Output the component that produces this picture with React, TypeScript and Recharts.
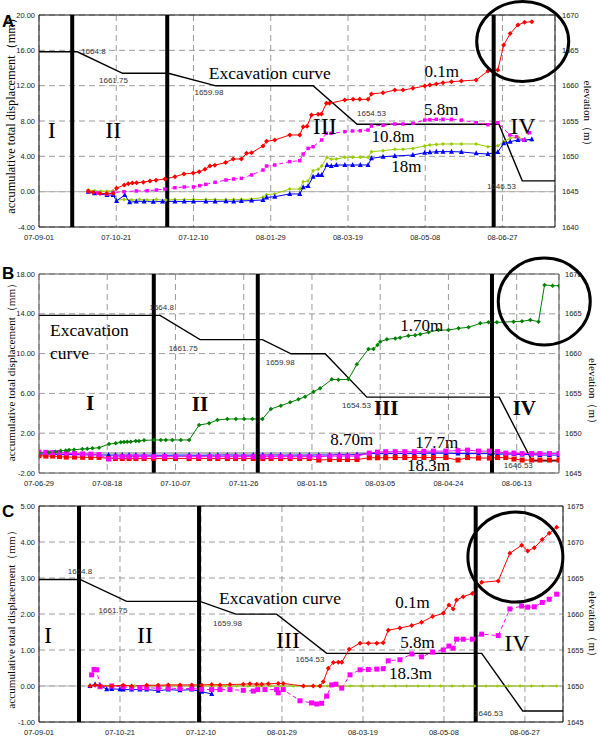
import React from 'react';
import { ComposedChart, Line, XAxis, YAxis, CartesianGrid, ReferenceLine, ReferenceDot } from 'recharts';

const SANS = '"Liberation Sans", Arial, sans-serif';
const SERIF = '"Liberation Serif", "Times New Roman", serif';

type P = { day: number; v: number };
const zip = (d: number[], v: number[]): P[] => d.map((x, i) => ({ day: x, v: v[i] }));

// ---------------- Panel A (days since 07-09-01) ----------------
const aTickDays = [0, 50, 100, 150, 200, 250, 300];
const aTickLabels = ['07-09-01', '07-10-21', '07-12-10', '08-01-29', '08-03-19', '08-05-08', '08-06-27'];
const aExcDays = [0, 24.8, 54.1, 83.7, 114.5, 177.4, 205.9, 297.7, 312.8, 334];
const aExcElev = [1664.8, 1664.8, 1661.75, 1661.75, 1659.98, 1659.98, 1654.53, 1654.53, 1646.53, 1646.53];
const aPhaseDays = [21.5, 83, 294.3];
const aRedDays = [31.9, 35, 39.5, 43.8, 48, 50.2, 55.2, 57.8, 60.4, 63.2, 67.5, 71.8, 75.7, 81.5, 88, 93.8, 99.8, 103.7, 107.4, 110.6, 113.8, 120.8, 125.7, 131, 134.3, 137.6, 145, 147.3, 152.6, 162.3, 168.8, 171, 173.5, 176.4, 180.7, 182.8, 186, 188, 197.9, 203.3, 207.6, 213, 215.2, 222.7, 230.3, 235.6, 242, 249.7, 253, 257.2, 261.5, 267, 273.4, 283, 290.6, 297, 300.8, 305, 310, 314.3, 319];
const aRedVals = [0.05, -0.1, -0.2, -0.22, -0.2, 0.4, 0.75, 0.9, 0.97, 1.0, 1.08, 1.22, 1.3, 1.43, 1.7, 2.0, 2.1, 2.26, 2.53, 2.9, 3.0, 3.3, 3.7, 3.7, 4.34, 4.4, 5.17, 5.7, 5.85, 6.42, 6.42, 7.36, 7.4, 8.68, 8.76, 8.8, 10.0, 10.0, 10.38, 10.45, 10.45, 10.45, 11.06, 11.2, 11.5, 11.5, 11.7, 11.96, 12.08, 12.2, 12.34, 12.45, 12.53, 12.64, 13.66, 13.77, 16.6, 17.9, 18.87, 19.17, 19.24];
const aMagDays = [31.9, 38, 44, 48, 55, 63, 70, 76, 81.5, 88, 94, 100, 104, 108, 114, 121, 126, 131, 137.6, 145, 147.3, 152.6, 162.3, 168.8, 171, 174.2, 177.4, 183, 186, 189, 198, 203, 208, 213, 215.2, 222.7, 230.3, 235.6, 242, 249.7, 253, 257.2, 261.5, 267, 273.4, 283, 290.6, 297, 304.8, 309, 313.7, 317.6];
const aMagVals = [0.05, -0.15, -0.3, -0.1, 0.0, 0.08, 0.11, 0.19, 0.3, 0.45, 0.53, 0.53, 0.68, 0.83, 1.06, 1.32, 1.43, 1.51, 1.89, 2.45, 2.9, 3.02, 3.4, 3.51, 4.26, 4.9, 5.09, 5.85, 6.6, 6.6, 6.79, 6.87, 6.9, 6.98, 7.43, 7.51, 7.66, 7.66, 7.74, 8.1, 8.15, 8.19, 8.19, 8.19, 8.1, 7.81, 7.58, 7.81, 6.42, 6.22, 5.85, 6.68];
const aGrnDays = [31.9, 36, 40, 44, 48, 50.2, 55, 60, 65, 70, 76, 82, 88, 94, 100, 108, 114, 121, 126, 131, 137.6, 145, 147.3, 152.6, 162.3, 168.8, 171, 174.2, 177.4, 180.7, 183, 186.4, 189.2, 192.5, 198, 203, 208, 213, 215.2, 222.7, 230.3, 235.6, 242, 249.7, 253, 257.2, 261.5, 267, 273.4, 283, 290.6, 297, 300.8, 305, 310, 314.3, 319];
const aGrnVals = [0.19, 0.1, 0.05, 0.05, 0.1, -0.94, -0.9, -0.95, -0.9, -0.95, -0.9, -0.95, -0.9, -0.92, -0.88, -0.9, -0.9, -0.92, -0.9, -0.88, -0.85, -0.64, -0.35, -0.25, 0.3, 0.3, 1.13, 1.2, 2.38, 2.53, 2.9, 3.89, 3.66, 3.7, 3.89, 3.89, 3.89, 3.89, 4.53, 4.64, 4.8, 4.8, 4.9, 5.17, 5.28, 5.35, 5.4, 5.4, 5.4, 5.4, 5.09, 5.2, 5.66, 6.04, 6.22, 5.85, 5.85];
const aBluDays = [31.9, 36, 44, 48, 50.2, 55.5, 58.7, 63, 68, 74, 80, 88, 94, 100, 108, 114, 121, 126, 131, 137.6, 145, 147.3, 152.6, 162.3, 168.8, 171, 174.2, 177.4, 180.7, 183, 186.4, 189.2, 192.5, 198, 203, 208, 213, 215.2, 222.7, 230.3, 242, 249.7, 253, 257.2, 261.5, 267, 273.4, 283, 290.6, 297, 300.8, 305, 310, 314.3, 319];
const aBluVals = [0.0, -0.19, -0.38, -0.38, -1.05, -0.38, -1.2, -1.1, -1.1, -1.15, -1.1, -1.1, -1.12, -1.1, -1.1, -1.1, -1.08, -1.1, -1.05, -1.0, -0.94, -0.65, -0.57, -0.26, -0.26, 0.49, 0.64, 1.7, 1.89, 1.9, 3.02, 2.9, 3.02, 3.02, 3.02, 3.02, 3.02, 3.77, 3.96, 4.04, 4.15, 4.41, 4.45, 4.53, 4.53, 4.53, 4.5, 4.34, 4.26, 4.49, 5.47, 5.66, 5.85, 5.85, 5.92];

// ---------------- Panel B (days since 07-06-29) ----------------
const bTickDays = [0, 50, 100, 150, 200, 250, 300, 350];
const bTickLabels = ['07-06-29', '07-08-18', '07-10-07', '07-11-26', '08-01-15', '08-03-05', '08-04-24', '08-06-13'];
const bExcDays = [0, 88.7, 118, 163.7, 184.7, 209.7, 240.2, 337.2, 361.2, 381];
const bExcElev = [1664.8, 1664.8, 1661.75, 1661.75, 1659.98, 1659.98, 1654.53, 1654.53, 1646.53, 1646.53];
const bPhaseDays = [84.1, 160.3, 331.9];
const bGrnDays = [0, 7.3, 12.2, 15.9, 19.6, 22, 25.7, 31.8, 35.4, 39.1, 44, 51.3, 56.2, 59.9, 62.3, 64.7, 67.2, 70.9, 73.3, 77, 84.3, 89.2, 92.9, 97.7, 103.9, 110, 117.3, 124.6, 130.7, 138, 144.2, 150.3, 156.4, 163.7, 169.9, 177.2, 184, 190.1, 195, 201.1, 206, 214.6, 219.4, 226.7, 232.9, 241.4, 245.1, 248, 250, 254.9, 261, 264.6, 270.7, 275.6, 279.3, 285.4, 292.7, 300, 307.4, 314.7, 323.3, 329.4, 335.5, 347.7, 353.9, 360, 366, 370.4, 376.3, 381];
const bGrnVals = [0, 0.08, 0.14, 0.24, 0.27, 0.31, 0.34, 0.41, 0.44, 0.48, 0.54, 0.91, 0.98, 1.08, 1.12, 1.15, 1.15, 1.22, 1.22, 1.28, 1.32, 1.32, 1.32, 1.32, 1.32, 1.32, 2.82, 2.99, 3.33, 3.43, 3.43, 3.43, 3.43, 3.43, 4.43, 4.77, 5.1, 5.4, 5.67, 6.17, 6.51, 7.41, 7.38, 7.41, 8.92, 10.46, 10.46, 10.86, 11.2, 11.43, 11.53, 11.6, 11.8, 11.85, 11.94, 12.14, 12.37, 12.37, 12.54, 12.64, 13.04, 13.14, 13.14, 13.21, 13.25, 13.38, 13.21, 16.9, 16.83, 16.83];
const bSmDays = [0, 5, 10, 15, 20, 26, 32, 38, 44, 51, 56, 61, 66, 71, 77, 84, 92, 100, 110, 117, 125, 131, 138, 144, 150, 157, 164, 170, 177, 184, 191, 198, 205, 213, 220, 226, 233, 242, 248, 254, 261, 268, 275, 282, 289, 298, 307, 314, 322, 330, 336, 342, 348, 354, 361, 367, 374, 381];
const bBluVals = [-0.1, -0.1, -0.12, -0.15, -0.15, -0.15, -0.18, -0.18, -0.18, -0.2, -0.2, -0.2, -0.2, -0.2, -0.2, -0.2, -0.22, -0.2, -0.2, -0.22, -0.2, -0.2, -0.18, -0.2, -0.2, -0.2, -0.2, -0.18, -0.2, -0.2, -0.2, -0.2, -0.18, -0.2, -0.15, -0.18, -0.15, -0.05, -0.05, -0.05, -0.05, -0.05, -0.05, 0.0, 0.0, 0.0, -0.05, -0.05, -0.05, -0.05, -0.1, -0.1, -0.1, -0.15, -0.15, -0.2, -0.2, -0.2];
const bMagVals = [0.1, 0.08, 0.05, 0.05, 0.0, -0.05, -0.08, -0.1, -0.15, -0.6, -0.38, -0.36, -0.36, -0.36, -0.36, -0.36, -0.36, -0.36, -0.36, -0.36, -0.36, -0.36, -0.36, -0.36, -0.36, -0.36, -0.36, -0.36, -0.36, -0.36, -0.36, -0.36, -0.36, -0.3, -0.3, -0.3, -0.3, 0.0, 0.1, 0.14, 0.14, 0.14, 0.14, 0.18, 0.2, 0.2, 0.25, 0.3, 0.2, 0.2, 0.15, 0.0, 0.0, -0.05, -0.05, -0.05, -0.05, -0.05];
const bRedVals = [-0.26, -0.3, -0.3, -0.35, -0.4, -0.4, -0.42, -0.43, -0.43, -0.53, -0.55, -0.55, -0.55, -0.55, -0.55, -0.55, -0.55, -0.55, -0.55, -0.55, -0.55, -0.55, -0.55, -0.55, -0.55, -0.55, -0.55, -0.55, -0.55, -0.55, -0.55, -0.55, -0.7, -0.65, -0.65, -0.65, -0.65, -0.47, -0.47, -0.47, -0.45, -0.45, -0.45, -0.45, -0.45, -0.45, -0.7, -0.45, -0.5, -0.5, -0.45, -0.45, -0.6, -0.7, -0.7, -0.7, -0.7, -0.7];

// ---------------- Panel C (days since 07-09-01) ----------------
const cTickDays = [0, 50, 100, 150, 200, 250, 300];
const cTickLabels = ['07-09-01', '07-10-21', '07-12-10', '08-01-29', '08-03-19', '08-05-08', '08-06-27'];
const cExcDays = [0, 25.3, 54.1, 99.4, 121.6, 146.7, 177.6, 273.3, 298.6, 323.5];
const cExcElev = [1664.8, 1664.8, 1661.75, 1661.75, 1659.98, 1659.98, 1654.53, 1654.53, 1646.53, 1646.53];
const cPhaseDays = [24.7, 98.8, 269.6];
const cRedDays = [31.5, 34.6, 37.7, 44.9, 52, 57.2, 66.5, 73.6, 79.8, 87, 94.3, 100.4, 106.6, 111.7, 117.9, 126.1, 130.2, 134.4, 137.5, 141.6, 147.7, 150.8, 163.2, 169.3, 173.5, 175.5, 178.6, 181.7, 184.8, 186.9, 191.5, 198.2, 203.3, 208.5, 212.5, 215.6, 222.8, 230.1, 236.2, 243, 249.6, 253.1, 255.7, 257.8, 261.9, 267.5, 273.3, 283.5, 290.7, 298, 301.7, 305.8, 310.7, 315, 319.6];
const cRedVals = [0.0, 0.02, 0.0, 0.0, 0.02, 0.0, 0.02, 0.02, 0.03, 0.03, 0.03, 0.03, 0.04, 0.03, 0.04, 0.05, 0.06, 0.05, 0.05, 0.06, 0.07, 0.07, 0.0, 0.0, 0.0, 0.12, 0.49, 0.65, 0.66, 0.66, 1.02, 1.19, 1.19, 1.19, 1.2, 1.55, 1.61, 1.68, 1.77, 1.93, 2.02, 2.25, 2.14, 2.39, 2.48, 2.57, 2.88, 2.92, 3.69, 3.91, 3.75, 3.84, 4.07, 4.24, 4.41];
const cMagDays = [32.5, 34, 35.6, 37.7, 44.9, 52, 57.2, 62.3, 66.5, 73.6, 79.8, 87, 94.3, 100.4, 106.6, 111.7, 117.9, 126.1, 132.3, 135, 139.5, 146.7, 147.7, 150.8, 161.1, 168.3, 171.4, 174.5, 177.6, 180.7, 183.3, 186.9, 192, 198.2, 203.3, 208.5, 212.5, 215.6, 222.8, 230.1, 236.2, 243, 249.6, 253.1, 255.7, 257.8, 261.9, 267.5, 273.3, 283.5, 290.7, 298, 301.7, 305.8, 310.7, 315, 319.6];
const cMagVals = [0.31, 0.46, 0.45, -0.02, 0.0, -0.02, -0.05, -0.05, -0.05, -0.06, -0.06, -0.07, -0.07, -0.09, -0.1, -0.1, -0.1, -0.12, -0.14, -0.1, -0.1, -0.1, -0.19, -0.1, -0.41, -0.47, -0.5, -0.48, -0.28, 0.03, 0.05, -0.06, 0.31, 0.45, 0.46, 0.47, 0.48, 0.7, 0.73, 0.89, 0.81, 0.94, 1.0, 1.11, 1.05, 1.3, 1.3, 1.3, 1.44, 1.4, 2.14, 2.22, 2.19, 2.2, 2.32, 2.41, 2.55];
const cGrnDays = [31.5, 38, 45, 52, 59, 66, 73, 80, 87, 94, 101, 108, 115, 122, 129, 136, 143, 150, 157, 164, 171, 178, 185, 192, 199, 206, 213, 220, 227, 234, 241, 248, 255, 262, 269, 276, 283, 290, 297, 304, 311, 319.6];
const cGrnVals = [0.02, 0.02, 0.01, 0.01, 0.01, 0.0, 0.0, 0.0, 0.0, 0.0, 0.0, 0.0, 0.0, 0.0, 0.0, 0.0, 0.0, 0.0, 0.0, 0.0, 0.0, 0.0, 0.0, 0.0, 0.0, 0.0, 0.0, 0.0, 0.0, 0.0, 0.0, 0.0, 0.0, 0.0, 0.0, 0.0, 0.0, 0.0, 0.0, 0.0, 0.0, 0.0];
const cBluDays = [31.5, 34.6, 37.7, 41.8, 44.9, 50, 52, 57.2, 62.3, 66.5, 73.6, 79.8, 87, 94.3, 100.4, 106.6];
const cBluVals = [0.0, 0.05, 0.02, -0.09, -0.08, -0.09, -0.1, -0.1, -0.1, -0.1, -0.13, -0.1, -0.12, -0.1, -0.16, -0.22];

// ---------------- marker & annotation renderers ----------------
const RED = '#ff0000', MAG = '#ff00ff', YGR = '#99cc00', BLU = '#0000ff', DGR = '#008000';
const ok = (p: any) => p && Number.isFinite(p.cx) && Number.isFinite(p.cy);
const square = (s: number, c: string) => (p: any) =>
  ok(p) ? <rect key={`sq${p.index}`} x={p.cx - s / 2} y={p.cy - s / 2} width={s} height={s} fill={c} /> : <g key={`sq${p.index}`} />;
const tri = (s: number, c: string) => (p: any) =>
  ok(p) ? <polygon key={`tr${p.index}`} points={`${p.cx},${p.cy - s * 0.6} ${p.cx - s / 2},${p.cy + s * 0.4} ${p.cx + s / 2},${p.cy + s * 0.4}`} fill={c} /> : <g key={`tr${p.index}`} />;
const dia = (s: number, c: string) => (p: any) =>
  ok(p) ? <polygon key={`di${p.index}`} points={`${p.cx},${p.cy - s / 2} ${p.cx + s / 2},${p.cy} ${p.cx},${p.cy + s / 2} ${p.cx - s / 2},${p.cy}`} fill={c} /> : <g key={`di${p.index}`} />;

type TOpt = { sans?: boolean; bold?: boolean; fill?: string; anchor?: 'start' | 'middle' | 'end' };
const T = (s: string, size: number, o: TOpt = {}) => (p: any) => (
  <text x={p.cx} y={p.cy} fontSize={size} fontFamily={o.sans ? SANS : SERIF} fontWeight={o.bold ? 700 : 400}
    fill={o.fill || '#000'} textAnchor={o.anchor || 'middle'} dominantBaseline="central">{s}</text>
);
const small = (s: string) => T(s, 8, { sans: true, fill: '#333' });
const ring = (rx: number, ry: number) => (p: any) => (
  <ellipse cx={p.cx} cy={p.cy} rx={rx} ry={ry} fill="none" stroke="#000" strokeWidth={3} />
);

type Series = { pts: P[]; color: string; dash?: string; dot: (p: any) => any };
type Note = { x: number; y: number; shape: (p: any) => any };
type Cfg = {
  letter: string; top: number; height: number; mTop: number; xH: number; rW: number;
  xDomain: [number, number]; xTicks: number[]; xLabels: string[];
  yDomain: [number, number]; yTicks: number[];
  rDomain: [number, number]; rTicks: number[];
  series: Series[]; exc: P[]; phases: number[]; notes: Note[];
  frame: string; zero: string; zeroW: number;
  lTitle: { cy: number; size: number }; rTitle: { x: number; cy: number; size: number };
  rTickSize: number; rTickMargin: number; letterY: number;
};

const tickStyle = { fontSize: 7.5, fontFamily: SANS, fill: '#1a1a1a' };

function Panel({ c }: { c: Cfg }) {
  return (
    <div style={{ position: 'absolute', left: 0, top: c.top, width: 600, height: c.height }}>
      <ComposedChart width={600} height={c.height} margin={{ top: c.mTop, right: 0, bottom: 0, left: 0 }}>
        <CartesianGrid yAxisId="L" stroke="#9c9c9c" strokeDasharray="6 4" />
        <XAxis type="number" dataKey="day" domain={c.xDomain} ticks={c.xTicks} interval={0} allowDataOverflow height={c.xH}
          tickFormatter={(v: number) => c.xLabels[c.xTicks.indexOf(v)] ?? ''} tick={tickStyle} tickLine={false}
          axisLine={{ stroke: c.frame }} />
        <YAxis yAxisId="L" domain={c.yDomain} ticks={c.yTicks} interval={0} allowDataOverflow width={39}
          tickFormatter={(v: number) => Number(v).toFixed(2)} tick={tickStyle} tickLine={false} tickSize={2} tickMargin={2}
          axisLine={{ stroke: c.frame }} />
        <YAxis yAxisId="R" orientation="right" domain={c.rDomain} ticks={c.rTicks} interval={0} allowDataOverflow width={c.rW}
          tick={tickStyle} tickLine={false} tickSize={c.rTickSize} tickMargin={c.rTickMargin} axisLine={{ stroke: c.frame }} />
        <ReferenceLine yAxisId="L" y={c.yDomain[1]} stroke={c.frame} />
        <ReferenceLine yAxisId="L" y={0} stroke={c.zero} strokeWidth={c.zeroW} />
        <Line yAxisId="R" data={c.exc} dataKey="v" stroke="#000" strokeWidth={1.4} dot={false} activeDot={false} isAnimationActive={false} />
        {c.series.map((s, i) => (
          <Line key={`s${i}`} yAxisId="L" data={s.pts} dataKey="v" stroke={s.color} strokeWidth={1} strokeDasharray={s.dash}
            dot={s.dot} activeDot={false} isAnimationActive={false} />
        ))}
        {c.phases.map((d, i) => (
          <ReferenceLine key={`ph${i}`} yAxisId="L" x={d} stroke="#000" strokeWidth={4} />
        ))}
        {c.notes.map((n, i) => (
          <ReferenceDot key={`n${i}`} yAxisId="L" x={n.x} y={n.y} r={0} shape={n.shape} />
        ))}
      </ComposedChart>
      <svg width={600} height={c.height} style={{ position: 'absolute', left: 0, top: 0, pointerEvents: 'none' }}>
        <text x={2} y={c.letterY} fontSize={17} fontWeight={700} fontFamily={SANS} fill="#000">{c.letter}</text>
        <text x={11} y={c.lTitle.cy} transform={`rotate(-90 11 ${c.lTitle.cy})`} textAnchor="middle" dominantBaseline="central"
          fontSize={c.lTitle.size} fontFamily={SERIF} fill="#000">accumulative total displacement（mm）</text>
        <text x={c.rTitle.x} y={c.rTitle.cy} transform={`rotate(90 ${c.rTitle.x} ${c.rTitle.cy})`} textAnchor="middle"
          dominantBaseline="central" fontSize={c.rTitle.size} fontFamily={SERIF} fill="#000">elevation（m）</text>
      </svg>
    </div>
  );
}

const cfgA: Cfg = {
  letter: 'A', top: 0, height: 245, mTop: 15, xH: 18, rW: 45,
  xDomain: [0, 334], xTicks: aTickDays, xLabels: aTickLabels,
  yDomain: [-4, 20], yTicks: [-4, 0, 4, 8, 12, 16, 20],
  rDomain: [1640, 1670], rTicks: [1640, 1645, 1650, 1655, 1660, 1665, 1670],
  exc: zip(aExcDays, aExcElev), phases: aPhaseDays,
  series: [
    { pts: zip(aGrnDays, aGrnVals), color: YGR, dot: dia(4, YGR) },
    { pts: zip(aBluDays, aBluVals), color: BLU, dot: tri(5, BLU) },
    { pts: zip(aMagDays, aMagVals), color: MAG, dash: '4 3', dot: square(3.5, MAG) },
    { pts: zip(aRedDays, aRedVals), color: RED, dot: dia(5, RED) },
  ],
  notes: [
    { x: 8.2, y: 7.0, shape: T('I', 24) },
    { x: 48.1, y: 7.0, shape: T('II', 24) },
    { x: 185, y: 7.43, shape: T('III', 24) },
    { x: 313.3, y: 7.43, shape: T('IV', 24) },
    { x: 149.4, y: 13.4, shape: T('Excavation curve', 17.5) },
    { x: 260.7, y: 13.66, shape: T('0.1m', 17) },
    { x: 260.4, y: 9.25, shape: T('5.8m', 17) },
    { x: 229.2, y: 6.22, shape: T('10.8m', 17) },
    { x: 237.8, y: 2.83, shape: T('18m', 17) },
    { x: 35.2, y: 15.92, shape: small('1664.8') },
    { x: 48.2, y: 12.64, shape: small('1661.75') },
    { x: 110, y: 11.25, shape: small('1659.98') },
    { x: 215.2, y: 8.87, shape: small('1654.53') },
    { x: 299.3, y: 0.57, shape: small('1646.53') },
    { x: 313.1, y: 17.0, shape: ring(46, 40) },
  ],
  frame: '#111', zero: '#b4b4b4', zeroW: 1,
  lTitle: { cy: 113, size: 12.3 }, rTitle: { x: 588, cy: 116, size: 11 },
  rTickSize: 4, rTickMargin: 3, letterY: 27,
};

const cfgB: Cfg = {
  letter: 'B', top: 245, height: 245, mTop: 29, xH: 17, rW: 41,
  xDomain: [0, 381], xTicks: bTickDays, xLabels: bTickLabels,
  yDomain: [-2, 18], yTicks: [-2, 2, 6, 10, 14, 18],
  rDomain: [1645, 1670], rTicks: [1645, 1650, 1655, 1660, 1665, 1670],
  exc: zip(bExcDays, bExcElev), phases: bPhaseDays,
  series: [
    { pts: zip(bSmDays, bBluVals), color: BLU, dot: tri(5, BLU) },
    { pts: zip(bSmDays, bRedVals), color: RED, dot: square(5, RED) },
    { pts: zip(bSmDays, bMagVals), color: MAG, dot: square(5, MAG) },
    { pts: zip(bGrnDays, bGrnVals), color: DGR, dot: dia(4.5, DGR) },
  ],
  notes: [
    { x: 8.1, y: 12.37, shape: T('Excavation', 17.5, { anchor: 'start' }) },
    { x: 8.1, y: 10.03, shape: T('curve', 17.5, { anchor: 'start' }) },
    { x: 37.4, y: 5.04, shape: T('I', 21, { bold: true }) },
    { x: 118, y: 4.94, shape: T('II', 21, { bold: true }) },
    { x: 254.4, y: 4.53, shape: T('III', 21, { bold: true }) },
    { x: 355.6, y: 4.53, shape: T('IV', 21, { bold: true }) },
    { x: 280.5, y: 12.87, shape: T('1.70m', 17) },
    { x: 229.2, y: 1.32, shape: T('8.70m', 17) },
    { x: 291.5, y: 1.02, shape: T('17.7m', 17) },
    { x: 285.4, y: -1.27, shape: T('18.3m', 17) },
    { x: 89.9, y: 14.61, shape: small('1664.8') },
    { x: 105.6, y: 10.53, shape: small('1661.75') },
    { x: 176.7, y: 9.09, shape: small('1659.98') },
    { x: 232.6, y: 4.83, shape: small('1654.53') },
    { x: 351.2, y: -1.27, shape: small('1646.53') },
    { x: 370.2, y: 15.24, shape: ring(46, 43.5) },
  ],
  frame: '#555', zero: '#a0a0a0', zeroW: 1.5,
  lTitle: { cy: 124.5, size: 11.2 }, rTitle: { x: 593, cy: 148.5, size: 11 },
  rTickSize: 3, rTickMargin: 3, letterY: 34,
};

const cfgC: Cfg = {
  letter: 'C', top: 490, height: 246, mTop: 16, xH: 14, rW: 37,
  xDomain: [0, 323.5], xTicks: cTickDays, xLabels: cTickLabels,
  yDomain: [-1, 5], yTicks: [-1, 0, 1, 2, 3, 4, 5],
  rDomain: [1645, 1675], rTicks: [1645, 1650, 1655, 1660, 1665, 1670, 1675],
  exc: zip(cExcDays, cExcElev), phases: cPhaseDays,
  series: [
    { pts: zip(cGrnDays, cGrnVals), color: YGR, dot: dia(3.5, YGR) },
    { pts: zip(cBluDays, cBluVals), color: BLU, dot: tri(5, BLU) },
    { pts: zip(cMagDays, cMagVals), color: MAG, dash: '4 3', dot: square(5, MAG) },
    { pts: zip(cRedDays, cRedVals), color: RED, dot: dia(5, RED) },
  ],
  notes: [
    { x: 5.6, y: 1.42, shape: T('I', 24) },
    { x: 65.4, y: 1.42, shape: T('II', 24) },
    { x: 153.7, y: 1.28, shape: T('III', 24) },
    { x: 295, y: 1.19, shape: T('IV', 24) },
    { x: 148.8, y: 2.44, shape: T('Excavation curve', 17.5) },
    { x: 230.6, y: 2.31, shape: T('0.1m', 17) },
    { x: 233.6, y: 1.22, shape: T('5.8m', 17) },
    { x: 229.3, y: 0.36, shape: T('18.3m', 17) },
    { x: 25.3, y: 3.17, shape: small('1664.8') },
    { x: 45.7, y: 2.11, shape: small('1661.75') },
    { x: 116.4, y: 1.74, shape: small('1659.98') },
    { x: 167.3, y: 0.75, shape: small('1654.53') },
    { x: 277.5, y: -0.75, shape: small('1646.53') },
    { x: 294.1, y: 3.58, shape: ring(47.5, 45) },
  ],
  frame: '#111', zero: '#b4b4b4', zeroW: 1,
  lTitle: { cy: 127, size: 11.2 }, rTitle: { x: 593, cy: 136.5, size: 11 },
  rTickSize: 2, rTickMargin: 2, letterY: 27,
};

export default function App() {
  return (
    <div style={{ position: 'absolute', left: 0, top: 0, width: 600, height: 736, background: '#fff', overflow: 'hidden' }}>
      <Panel c={cfgA} />
      <Panel c={cfgB} />
      <Panel c={cfgC} />
    </div>
  );
}
